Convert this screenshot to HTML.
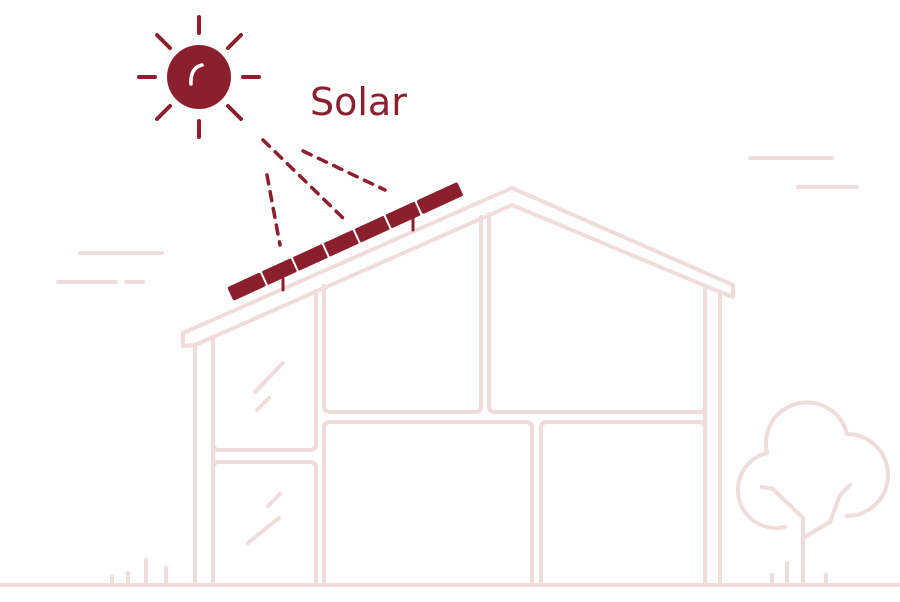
<!DOCTYPE html>
<html><head><style>body{margin:0;background:#fff}svg{display:block}</style></head><body>
<svg width="900" height="602" viewBox="0 0 900 602" xmlns="http://www.w3.org/2000/svg">
<g fill="none" stroke="#efdcdb" stroke-width="4" stroke-linecap="round" stroke-linejoin="round">
<path d="M80 253H162M58 282H116M126 282H143M750 158H832M798 187H857"/>
<path d="M0 585H900"/>
<path d="M112 585V577M128 585V573M146 585V560M166 585V568M772 585V575M787 585V563M826 585V575"/>
<path d="M183 346 L183 333 L512 188 L733 285 L733 297 L720 292 L512 205 L195 345 Z"/>
<path d="M195 345V585M213 337V585M720 292V585M705 286V585"/>
<path d="M213 337 L213 444 Q213 450 219 450 L310 450 Q316 450 316 444 L316 291"/>
<path d="M324 286 L324 406 Q324 412 330 412 L475 412 Q481 412 481 406 L481 217"/>
<path d="M489 214 L489 406 Q489 412 495 412 L699 412 Q705 412 705 406"/>
<path d="M213 585 L213 468 Q213 462 219 462 L310 462 Q316 462 316 468 L316 585"/>
<path d="M324 585 L324 428 Q324 422 330 422 L526 422 Q532 422 532 428 L532 585"/>
<path d="M541 585 L541 428 Q541 422 547 422 L699 422 Q705 422 705 428"/>
<path d="M283 363 L255 392M269 398 L257 410M280 494 L268 506M279 518 L248 543"/>
<path d="M785 527 A38 38 0 0 1 767 453 A40 40 0 0 1 847 434 A40 40 0 0 1 847 516"/>
<path d="M762 487 L773 489 L803 518 V585M803 538 L830 522 L840 495 L850 485"/>
</g>
<g fill="#8b1f2e">
<circle cx="199" cy="77" r="32"/>
<g transform="translate(233,300) rotate(-24.6)">
<rect x="0" y="-14" width="36" height="15" rx="2"/>
<rect x="38" y="-14" width="32" height="15" rx="1"/>
<rect x="72" y="-14" width="32" height="15" rx="1"/>
<rect x="106" y="-14" width="32" height="15" rx="1"/>
<rect x="140" y="-14" width="32" height="15" rx="1"/>
<rect x="174" y="-14" width="32" height="15" rx="1"/>
<rect x="208" y="-14" width="45" height="15" rx="2"/>
</g>
</g>
<g fill="none" stroke="#8b1f2e" stroke-width="4" stroke-linecap="round">
<path d="M199 17V33M199 121V137M139 77H155M243 77H259M157 35L170 48M241 35L228 48M157 119L170 106M241 119L228 106"/>
<path d="M191 84 Q190 68 202 65" stroke="#fff" stroke-width="3.5"/>
<path d="M283 290V279M413 230V217" stroke-width="3"/>
<g stroke-dasharray="9 8" stroke-width="3.5">
<path d="M267 175 L280 245"/>
<path d="M263 140 L343 218"/>
<path d="M303 151 L385 190"/>
</g>
</g>
<text x="310" y="115" font-family="'DejaVu Sans',sans-serif" font-size="38" fill="#8b1f2e">Solar</text>
</svg>
</body></html>
